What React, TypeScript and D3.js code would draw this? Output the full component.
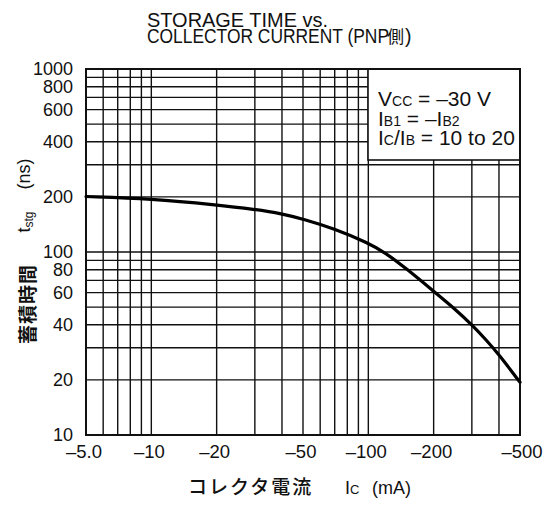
import React from 'react';
import * as d3 from 'd3';

// Ic (mA, magnitude) vs tstg (ns)
const currentMA = [5, 10, 20, 30, 40, 50, 70, 100, 120, 150, 200, 250, 300, 350, 400, 500];
const storageNs = [201, 195.5, 181, 171, 162, 151.5, 134, 112, 99, 81, 61, 49, 40, 33, 27.5, 19.4];

const xTickValues = [5, 10, 20, 50, 100, 200, 500];
const xTickLabels = ['–5.0', '–10', '–20', '–50', '–100', '–200', '–500'];
const yTickValues = [10, 20, 40, 60, 80, 100, 200, 400, 600, 800, 1000];
const yTickLabels = ['10', '20', '40', '60', '80', '100', '200', '400', '600', '800', '1000'];

const W = 547;
const H = 505;
const margin = { top: 69, right: 27, bottom: 70, left: 86 };
const latin = '"Liberation Sans", Arial, Helvetica, sans-serif';
const cjk = '"Noto Sans CJK JP", "Noto Sans CJK SC", sans-serif';

const App = () => {
  const x = d3
    .scaleLog()
    .domain([5, 500])
    .range([margin.left, W - margin.right]);
  const y = d3
    .scaleLog()
    .domain([10, 1000])
    .range([H - margin.bottom, margin.top]);

  const [x0, x1] = x.range();
  const [y0, y1] = y.range();

  const pts: [number, number][] = currentMA.map((c, i) => [c, storageNs[i]]);
  const line = d3
    .line<[number, number]>()
    .x((d) => x(d[0]))
    .y((d) => y(d[1]))
    .curve(d3.curveBasis);

  // legend box in the upper right corner
  const box = { left: 368, top: y1, right: x1, bottom: 160 };
  const sub = 14;

  return (
    <svg
      width={W}
      height={H}
      style={{ position: 'absolute', left: 0, top: 0, background: '#fff' }}
      fontFamily={latin}
    >
      <rect width={W} height={H} fill="#fff" />

      {/* title */}
      <g fill="#111" fontSize={19.5}>
        <text x={147} y={27} textLength={181} lengthAdjust="spacingAndGlyphs">
          STORAGE TIME vs.
        </text>
        <text transform="translate(147,43) scale(0.893,1)">COLLECTOR CURRENT (PNP</text>
        <text x={387} y={43} fontFamily={cjk} fontSize={17}>
          側<tspan fontFamily={latin} fontSize={19.5} dx={1}>)</tspan>
        </text>
      </g>

      {/* grid */}
      <g stroke="#111" strokeWidth={1.4}>
        {x.ticks().map((t) => (
          <line key={'gx' + t} x1={x(t)} x2={x(t)} y1={y0} y2={y1} />
        ))}
        {y.ticks().map((t) => (
          <line key={'gy' + t} x1={x0} x2={x1} y1={y(t)} y2={y(t)} />
        ))}
      </g>

      {/* legend */}
      <rect
        x={box.left}
        y={box.top}
        width={box.right - box.left}
        height={box.bottom - box.top}
        fill="#fff"
        stroke="#111"
        strokeWidth={1.6}
      />
      <g fontSize={21} fill="#111">
        <text x={378} y={106}>
          V<tspan fontSize={sub}>CC</tspan> = –30 V
        </text>
        <text x={378} y={125.5}>
          I<tspan fontSize={sub}>B1</tspan> = –I<tspan fontSize={sub}>B2</tspan>
        </text>
        <text x={378} y={145}>
          I<tspan fontSize={sub}>C</tspan>/I<tspan fontSize={sub}>B</tspan> = 10 to 20
        </text>
      </g>

      {/* frame */}
      <rect x={x0} y={y1} width={x1 - x0} height={y0 - y1} fill="none" stroke="#111" strokeWidth={2} />

      {/* curve */}
      <path d={line(pts) || ''} fill="none" stroke="#000" strokeWidth={3.2} strokeLinecap="round" />

      {/* y tick labels */}
      <g fontSize={18} fill="#111" textAnchor="end">
        {yTickValues.map((v, i) => (
          <text key={'yl' + v} x={73} y={y(v)} dy="0.36em">
            {yTickLabels[i]}
          </text>
        ))}
      </g>

      {/* x tick labels */}
      <g fontSize={18.5} fill="#111" textAnchor="middle">
        {xTickValues.map((v, i) => (
          <text key={'xl' + v} x={x(v) + (i === xTickValues.length - 1 ? 2 : -2)} y={458}>
            {xTickLabels[i]}
          </text>
        ))}
      </g>

      {/* x axis title */}
      <g fill="#111">
        <text x={188} y={494} fontFamily={cjk} fontSize={19} fontWeight={500} letterSpacing={2}>
          コレクタ電流
        </text>
        <text x={345} y={494} fontSize={18}>
          I<tspan fontSize={13}>C</tspan>
        </text>
        <text x={372} y={494} fontSize={18}>
          (mA)
        </text>
      </g>

      {/* y axis title, rotated */}
      <g fill="#111">
        <text
          transform="translate(26,304) rotate(-90)"
          textAnchor="middle"
          dominantBaseline="central"
          fontFamily={cjk}
          fontSize={19}
          fontWeight={700}
          letterSpacing={1}
        >
          蓄積時間
        </text>
        <text transform="translate(30,222) rotate(-90)" textAnchor="middle" fontSize={18}>
          t<tspan fontSize={12} dy={3}>stg</tspan>
        </text>
        <text transform="translate(30,174) rotate(-90)" textAnchor="middle" fontSize={18}>
          (ns)
        </text>
      </g>
    </svg>
  );
};

export default App;
